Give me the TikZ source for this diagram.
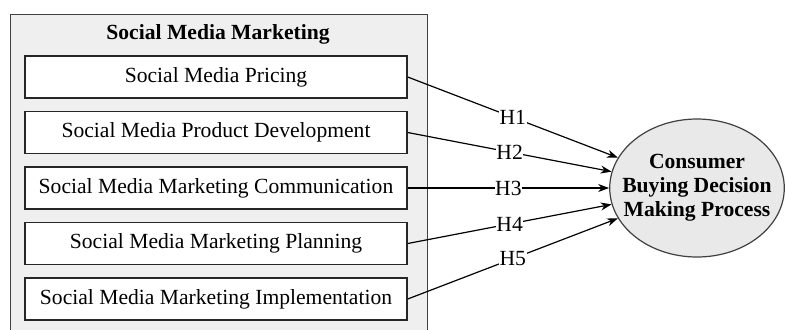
\documentclass[tikz,border=0pt]{standalone}
\usepackage{fontspec}
\setmainfont{Liberation Serif}
\usetikzlibrary{arrows.meta,shapes.geometric}
\newlength{\du}
\setlength{\du}{0.5pt}
\definecolor{groupgray}{rgb}{0.937255, 0.937255, 0.937255}
\definecolor{ellipsegray}{rgb}{0.913725, 0.913725, 0.913725}
\tikzset{
  groupbox/.style={draw=black!75, fill=groupgray, line width=1.2\du, inner sep=0pt},
  factorbox/.style={draw=black!85, fill=white, line width=1.4\du, inner sep=0pt,
    minimum width=382\du, minimum height=42\du, font=\fontsize{10.8}{12}\selectfont},
  outcome/.style={ellipse, draw=black!75, fill=ellipsegray, line width=1.2\du,
    inner xsep=-13\du, inner ysep=0pt,
    minimum width=172\du, minimum height=138\du, align=center,
    font=\fontsize{10.8}{12}\selectfont\bfseries},
  hyplabel/.style={fill=white, inner sep=0.6\du, font=\fontsize{10.8}{12}\selectfont},
  hyparrow/.style={line width=1.2\du, -{Stealth[length=5.5pt, width=4pt]}}
}
\begin{document}
\begin{tikzpicture}
\pgftransformxscale{1.000000}
\pgftransformyscale{-1.000000}
\useasboundingbox (0\du,0\du) rectangle (786\du,329\du);
% group box, cut off at the bottom
\node[groupbox, anchor=north west, minimum width=417\du, minimum height=340\du] (smm) at (10\du,14\du) {};
\node[font=\fontsize{10.8}{12}\selectfont\bfseries] (smmtitle) at (218\du,34\du) {Social Media Marketing};
% the five factors
\node[factorbox] (pricing) at (216\du,77\du) {Social Media Pricing};
\node[factorbox] (product) at (216\du,132.5\du) {Social Media Product Development};
\node[factorbox] (communication) at (216\du,188\du) {Social Media Marketing Communication};
\node[factorbox] (planning) at (216\du,243.5\du) {Social Media Marketing Planning};
\node[factorbox] (implementation) at (216\du,299\du) {Social Media Marketing Implementation};
% outcome
\node[outcome] (decision) at (697\du,188\du) {Consumer\\Buying Decision\\Making Process};
% hypotheses
\draw[hyparrow] (pricing.east) -- (decision) node[hyplabel, midway] {H1};
\draw[hyparrow] (product.east) -- (decision) node[hyplabel, midway] {H2};
\draw[hyparrow] (communication.east) -- (decision) node[hyplabel, midway] {H3};
\draw[hyparrow] (planning.east) -- (decision) node[hyplabel, midway] {H4};
\draw[hyparrow] (implementation.east) -- (decision) node[hyplabel, midway] {H5};
\end{tikzpicture}
\end{document}
